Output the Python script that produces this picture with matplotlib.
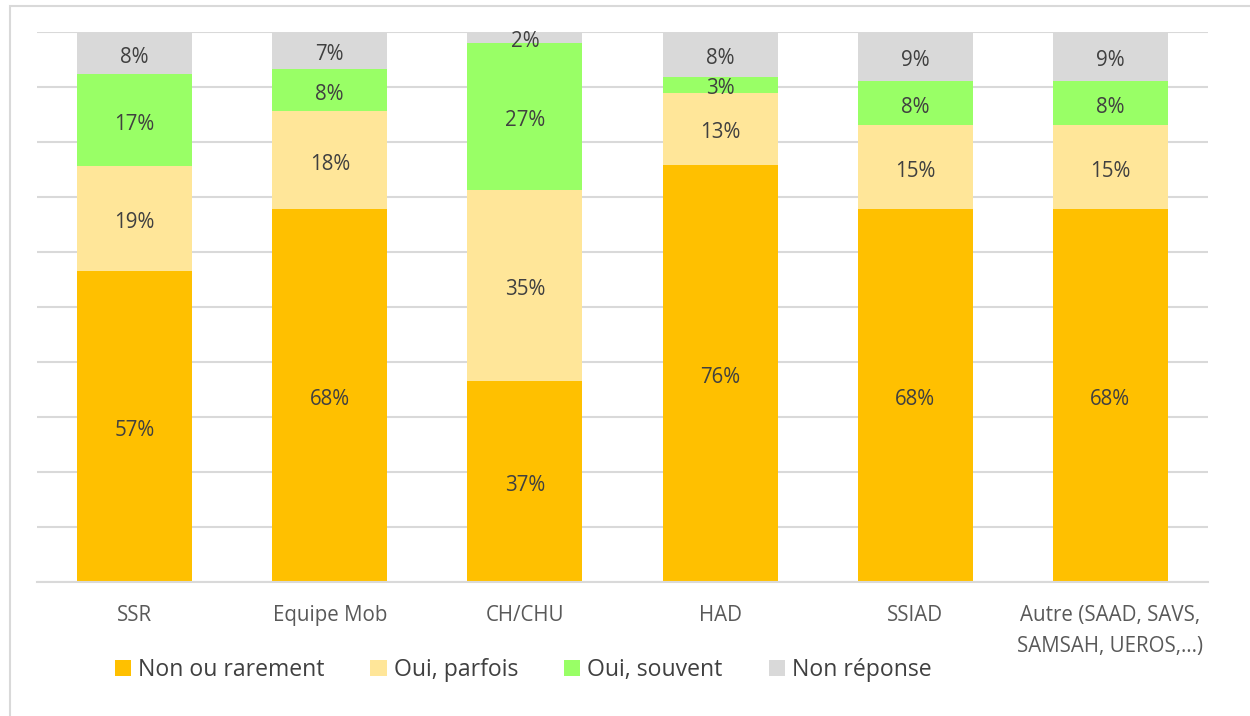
import numpy as np
import matplotlib.pyplot as plt
from matplotlib.patches import Rectangle

plt.rcParams['font.family'] = ['Open Sans', 'DejaVu Sans']

categories = ['SSR', 'Equipe Mob', 'CH/CHU', 'HAD', 'SSIAD',
              'Autre (SAAD, SAVS,\nSAMSAH, UEROS,…)']
series_names = ['Non ou rarement', 'Oui, parfois', 'Oui, souvent', 'Non réponse']
non_rarement = [56.6, 67.8, 36.6, 75.9, 67.8, 67.8]
oui_parfois = [19.0, 17.8, 34.7, 13.1, 15.3, 15.3]
oui_souvent = [16.8, 7.6, 26.7, 2.9, 8.0, 8.0]
non_reponse = [7.6, 6.8, 2.0, 8.1, 8.9, 8.9]
colors = ['#FFC000', '#FFE699', '#99FF66', '#D9D9D9']

W, H = 1250, 716
fig = plt.figure(figsize=(W / 100, H / 100), dpi=100)
ax = fig.add_axes([37 / W, (H - 582) / H, 1171 / W, 550 / H])

x = np.arange(len(categories))
bottom = np.zeros(len(categories))
for name, vals, col in zip(series_names,
                           [non_rarement, oui_parfois, oui_souvent, non_reponse],
                           colors):
    vals = np.array(vals)
    ax.bar(x, vals, 0.59, bottom=bottom, color=col, label=name, zorder=2)
    for xi, b, v in zip(x, bottom, vals):
        ax.annotate(f'{v:.0f}%', (xi, b + v / 2), xytext=(0, -3),
                    textcoords='offset points', ha='center', va='center',
                    fontsize=14.8, color='#404040', zorder=3)
    bottom += vals

ax.set_xlim(-0.5, len(categories) - 0.5)
ax.set_ylim(0, 100)
ax.set_yticks(np.arange(0, 101, 10))
ax.set_yticklabels([])
ax.tick_params(axis='y', length=0)
ax.tick_params(axis='x', length=0, pad=16.5, labelsize=14.8, labelcolor='#595959')
ax.set_xticks(x)
ax.set_xticklabels(categories, linespacing=1.6)
ax.yaxis.grid(True, color='#D9D9D9', linewidth=1.5, zorder=0)
for s in ['top', 'right', 'left']:
    ax.spines[s].set_visible(False)
ax.spines['bottom'].set_color('#D9D9D9')
ax.spines['bottom'].set_linewidth(1.5)

# chart border (partly cropped)
fig.patches.append(Rectangle((10 / W, -0.1), 1.2, (H - 6) / H + 0.1,
                             transform=fig.transFigure, fill=False,
                             edgecolor='#D9D9D9', linewidth=1.5))

handles, labels = ax.get_legend_handles_labels()
fig.legend(handles, labels, loc='center', bbox_to_anchor=(523 / W, 1 - 670 / H),
           ncol=4, frameon=False, fontsize=16.6, labelcolor='#404040',
           handlelength=0.7, handleheight=0.7, handletextpad=0.3,
           columnspacing=2.0)

fig.savefig('out.png', dpi=100)
